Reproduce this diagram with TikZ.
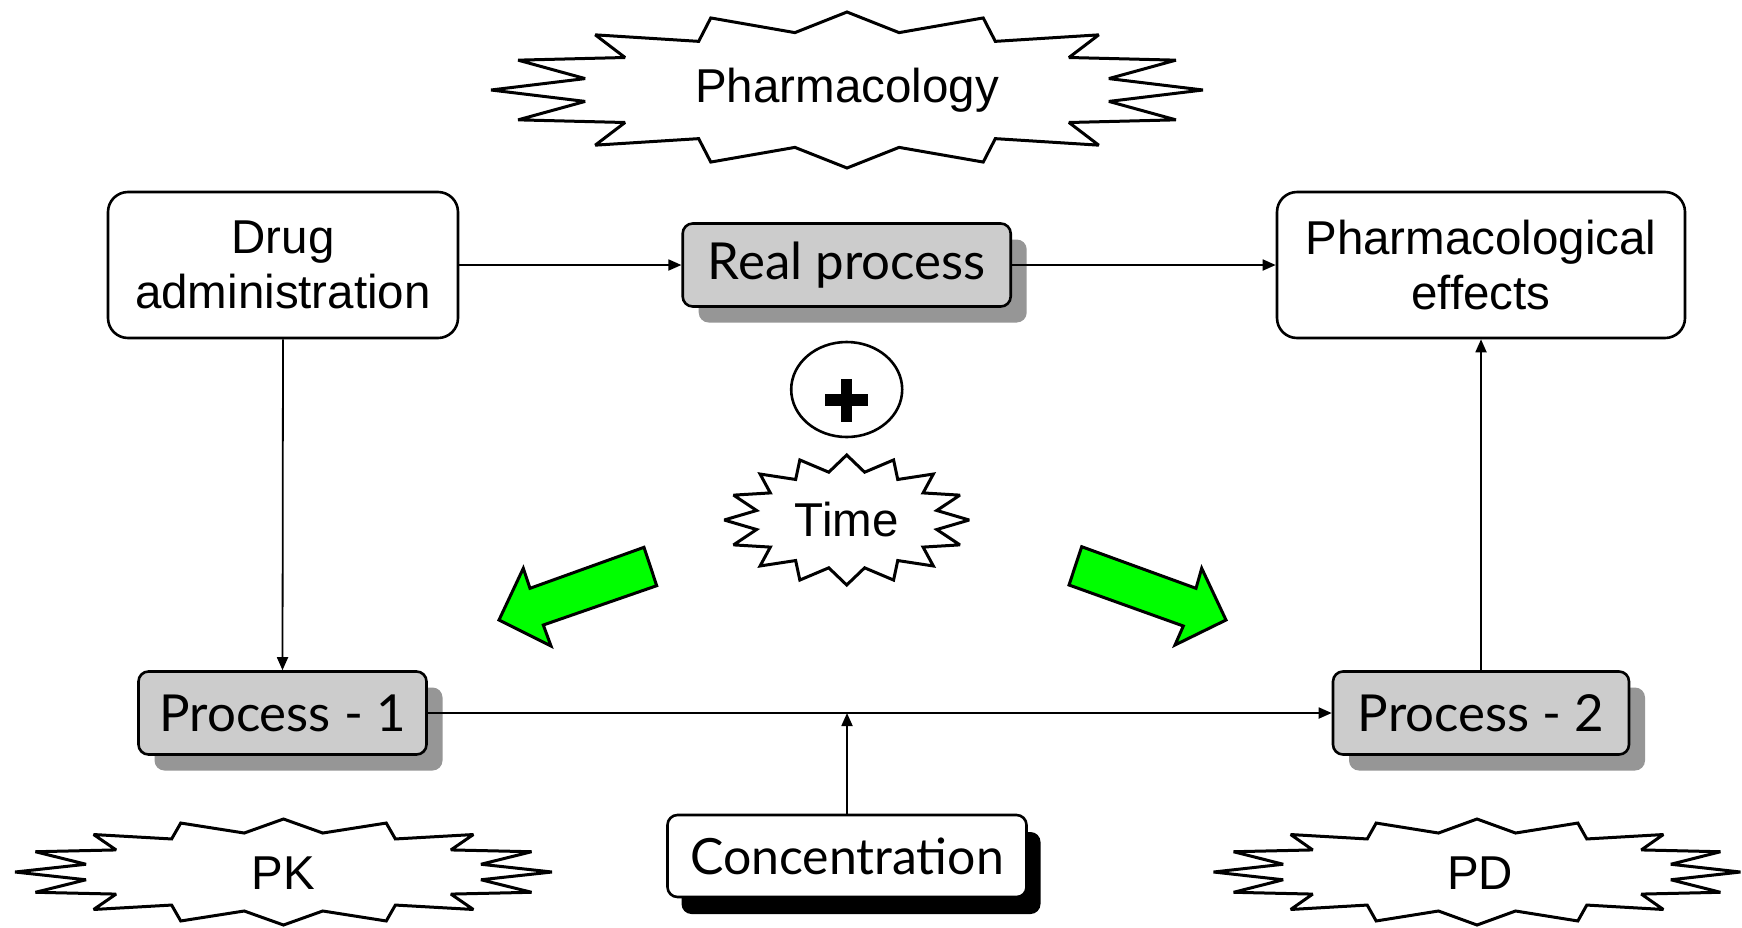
\documentclass[tikz,border=0pt]{standalone}
\usepackage{fontspec}
\setmainfont{Liberation Sans}
\newfontfamily\comicfont{Lato}
\usetikzlibrary{arrows.meta,shapes.geometric,shadows}
\definecolor{boxgray}{HTML}{CCCCCC}
\definecolor{shadowgray}{HTML}{969696}
\definecolor{arrowgreen}{HTML}{00FF00}
\newcommand\burstshape[4]{%
  \draw[burst] ({#1},{#2-#4})
    \foreach \k in {1,...,31}{ -- ({#1+#3*(1-0.25*mod(\k,2))*cos(90+11.25*\k)},{#2-#4*(1-0.25*mod(\k,2))*sin(90+11.25*\k)}) } -- cycle;}
\begin{document}
\begin{tikzpicture}[x=1pt,y=-1pt,
  conn/.style={line width=1.8pt,-{Triangle[length=13pt,width=11pt]}},
  whitebox/.style={draw,line width=2.6pt,rounded corners=20pt,fill=white,align=center,
    font=\fontsize{47.5}{55}\selectfont,minimum height=146pt,inner sep=0pt},
  graybox/.style={draw,line width=2.6pt,rounded corners=10pt,fill=boxgray,
    font=\comicfont\fontsize{51}{60}\selectfont,minimum height=83pt,inner sep=0pt,
    drop shadow={shadow xshift=16pt,shadow yshift=-16pt,opacity=1,fill=shadowgray}},
  blackshadowbox/.style={draw,line width=2.6pt,rounded corners=10pt,fill=white,
    font=\comicfont\fontsize{50}{60}\selectfont,minimum height=82pt,inner sep=0pt,
    drop shadow={shadow xshift=14pt,shadow yshift=-17pt,opacity=1,fill=black}},
  burst/.style={draw,line width=3pt,fill=white,line join=miter,miter limit=3},
  bursttext/.style={font=\fontsize{47.5}{55}\selectfont,inner sep=0pt},
  greenarrow/.style={draw,line width=3pt,fill=arrowgreen,line join=miter}
]
\fill[white] (0,0) rectangle (1742,927);
\path[use as bounding box] (0,0) rectangle (1742,927);

% starbursts
\burstshape{847}{90}{356}{78}
\node[bursttext] (pharmacology) at (847,90) {Pharmacology};
\burstshape{846.7}{520}{122.5}{65}
\node[bursttext] (time) at (846.7,520) {Time};
\burstshape{283.5}{872}{268.5}{53}
\node[bursttext] (pk) at (283.5,873) {PK};
\burstshape{1477}{872}{263.5}{53}
\node[bursttext] (pd) at (1480,873) {PD};

% boxes
\node[whitebox,minimum width=350pt] (drug) at (283,265) {Drug\\administration};
\node[whitebox,minimum width=408pt] (effects) at (1481,265) {Pharmacological\\effects};
\node[graybox,minimum width=328pt] (real) at (846.7,265) {Real process};
\node[graybox,minimum width=288pt] (p1) at (282.5,713) {Process - 1};
\node[graybox,minimum width=296pt] (p2) at (1481,713) {Process - 2};
\node[blackshadowbox,minimum width=359pt] (conc) at (847,856) {Concentration};

% plus
\node[draw,ellipse,line width=2.6pt,minimum width=111pt,minimum height=95pt,inner sep=0pt] (plus) at (846.7,389.5) {};
\fill (841,379) rectangle (852.3,421.7);
\fill (825,394.3) rectangle (868.3,406);

% green arrows
\draw[greenarrow] (644,547.3) -- (656.7,585.7) -- (543.3,625) -- (551,646) -- (499,620)
  -- (523.3,568.3) -- (530,588.3) -- cycle;
\draw[greenarrow] (1081.7,546.7) -- (1069,585) -- (1183.3,626) -- (1175,645) -- (1226,620)
  -- (1201.7,568.3) -- (1196,588.3) -- cycle;

% connectors
\draw[conn] (drug.east) -- (real.west);
\draw[conn] (real.east) -- (effects.west);
\draw[conn] (drug.south) -- (p1.north);
\draw[conn] (p1.east) -- (p2.west);
\draw[conn] (p2.north) -- (effects.south);
\coordinate (cj) at (conc.north |- p1.east);
\draw[conn] (conc.north) -- (cj);
\end{tikzpicture}
\end{document}
